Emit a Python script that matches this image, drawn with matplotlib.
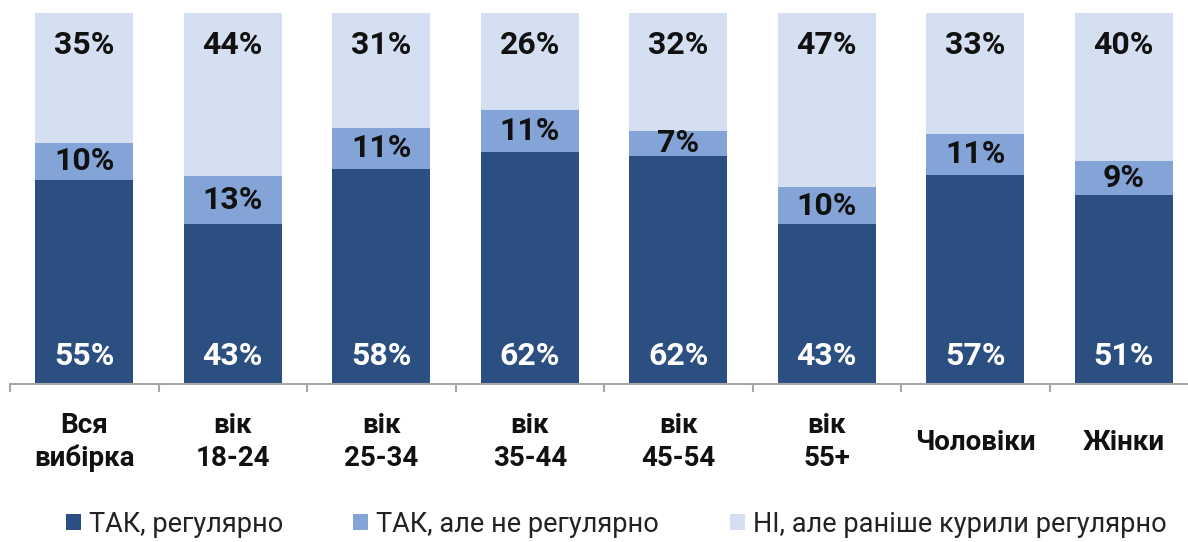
import matplotlib
matplotlib.use('Agg')
import matplotlib.pyplot as plt
import matplotlib.transforms as mtransforms
from matplotlib.patches import Patch
import numpy as np

# data
categories = ['Вся\nвибірка', 'вік\n18-24', 'вік\n25-34', 'вік\n35-44',
              'вік\n45-54', 'вік\n55+', 'Чоловіки', 'Жінки']
yes_regular = [55, 43, 58, 62, 62, 43, 57, 51]
yes_irregular = [10, 13, 11, 11, 7, 10, 11, 9]
no_former = [35, 44, 31, 26, 32, 47, 33, 40]
series_names = ['ТАК, регулярно', 'ТАК, але не регулярно',
                'НІ, але раніше курили регулярно']

colors = ['#2C4F82', '#84A4D7', '#D5DFF2']

plt.rcParams['font.family'] = ['Roboto', 'DejaVu Sans']

W, H = 1188, 542
fig = plt.figure(figsize=(W / 100, H / 100), dpi=100)
# axes spans the full width; the right edge runs slightly past the figure
ax = fig.add_axes([10 / W, 1 - 384 / H, 1188 / W, 371 / H])

# 100% stacked: each bar normalised to its own total
data = np.array([yes_regular, yes_irregular, no_former], dtype=float)
shares = data / data.sum(axis=0) * 100

x = np.arange(len(categories))
bw = 0.66
bottom = np.zeros(len(categories))
for vals, col in zip(shares, colors):
    ax.bar(x, vals, bw, bottom=bottom, color=col, edgecolor='none')
    bottom = bottom + vals

lab_kw = dict(ha='center', va='center', fontsize=23, fontweight='bold')
for i in x:
    ax.text(i, 7.5, f'{yes_regular[i]}%', color='white', **lab_kw)
    ax.text(i, shares[0, i] + shares[1, i] / 2, f'{yes_irregular[i]}%',
            color='#111111', **lab_kw)
    ax.text(i, 91.5, f'{no_former[i]}%', color='#111111', **lab_kw)

ax.set_xlim(-0.5, len(categories) - 0.5)
ax.set_ylim(0, 100)
for s in ['top', 'right', 'left']:
    ax.spines[s].set_visible(False)
ax.spines['bottom'].set_color('#A6A6A6')
ax.spines['bottom'].set_linewidth(1.5)
ax.set_yticks([])
ax.set_xticks(np.arange(len(categories) + 1) - 0.5)
ax.set_xticklabels([])
ax.tick_params(axis='x', direction='out', length=6, width=1.5, color='#A6A6A6')

trans = mtransforms.blended_transform_factory(ax.transData, ax.transAxes)
for i, c in enumerate(categories):
    ax.text(i, -58 / 371, c, transform=trans, ha='center', va='center',
            fontsize=20, fontweight='bold', color='#111111', linespacing=1.3)

handles = [Patch(facecolor=c, edgecolor='none') for c in colors]
fig.legend(handles, series_names, loc='center', bbox_to_anchor=(616 / W, 1 - 524 / H),
           ncol=3, frameon=False, fontsize=19.5, handlelength=0.55, handleheight=0.55,
           handletextpad=0.3, columnspacing=2.6, labelcolor='#222222')

fig.savefig('out.png', dpi=100)
